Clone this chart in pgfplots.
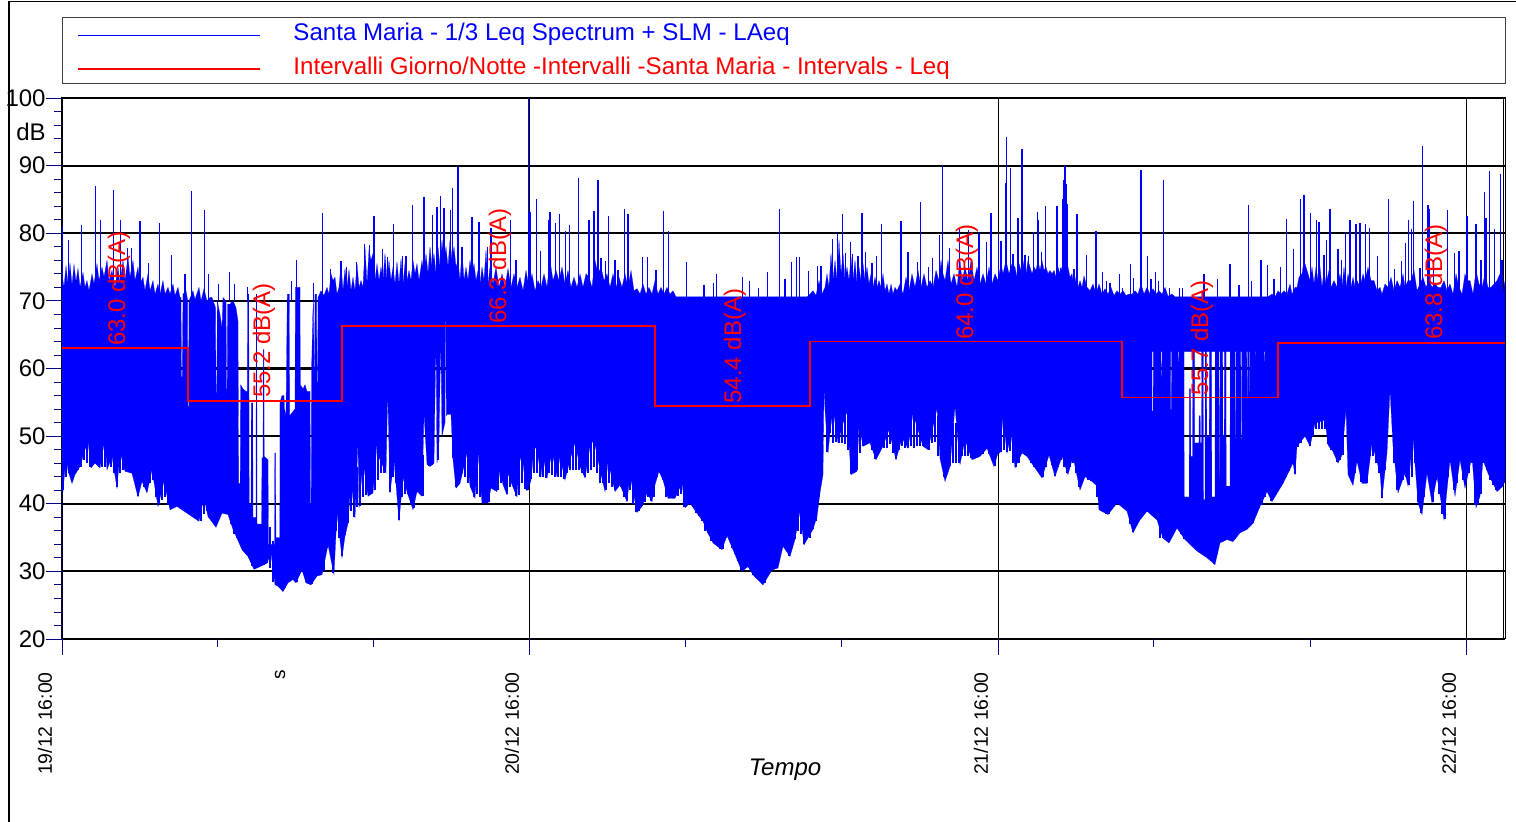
\documentclass[border=0pt]{standalone}
\usepackage{pgfplots}
\pgfplotsset{compat=1.18}
\usepackage{fontspec}
\setmainfont{Liberation Sans}
\definecolor{navy}{RGB}{0,0,128}
\definecolor{pureblue}{RGB}{0,0,255}
\definecolor{purered}{RGB}{255,0,0}
\begin{document}
\begin{tikzpicture}
\path[use as bounding box] (0,0) rectangle (758pt,411pt);
\draw[line width=.6pt,black] (4.5pt,0)--(4.5pt,410.4pt)--(758pt,410.4pt);
\begin{axis}[
  at={(31pt,91.5pt)}, anchor=south west,
  scale only axis, width=721.5pt, height=270.5pt,
  xmin=0, xmax=1443, ymin=20, ymax=100,
  /pgf/number format/assume math mode=true,
  ytick={20,30,40,50,60,70,80,90,100}, minor y tick num=4,
  xtick={0,467,936,1404},
  xticklabels={19/12 16:00,20/12 16:00,21/12 16:00,22/12 16:00},
  minor xtick={155,311,623,779,1091,1248},
  extra x ticks={1441}, extra x tick labels={},
  extra x tick style={major tick length=0pt},
  tick pos=left, tick align=outside,
  major tick length=8pt, minor tick length=4pt,
  tick style={navy,line width=.4pt},
  axis line style={black,line width=.5pt},
  xmajorgrids, ymajorgrids,
  x grid style={black,line width=.4pt},
  y grid style={black,line width=1.1pt},
  yticklabel style={font=\fontsize{12}{14}\selectfont,inner sep=0pt},
  xticklabel style={font=\fontsize{9.7}{11}\selectfont,rotate=90,anchor=east,inner sep=0pt,xshift=-8.5pt,yshift=8.5pt},
  tick label style={black},
  legend style={at={(0,1)},anchor=south west,yshift=7.2pt,draw=black!75,line width=.5pt,
    inner xsep=7.5pt,inner ysep=2.8pt,row sep=6.6pt,column sep=16.5pt,
    nodes={inner sep=0pt,anchor=base west}},
  legend cell align=left,
]
\addlegendimage{legend image code/.code={\draw[draw=pureblue,line width=.6pt] (0pt,.5ex)--(90.5pt,.5ex);}}
\addlegendentry{\makebox[598.5pt][l]{\textcolor{pureblue}{\fontsize{12.05}{14}\selectfont\rule[-3.6pt]{0pt}{12pt}Santa Maria - 1/3 Leq Spectrum + SLM - LAeq}}}
\addlegendimage{legend image code/.code={\draw[draw=purered,line width=1pt] (0pt,.5ex)--(90.5pt,.5ex);}}
\addlegendentry{\makebox[598.5pt][l]{\textcolor{purered}{\fontsize{12.05}{14}\selectfont\rule[-3.6pt]{0pt}{12pt}Intervalli Giorno/Notte -Intervalli -Santa Maria - Intervals - Leq}}}
% main body of the level trace: upper edge, then lower edge back
\addplot[draw=pureblue,fill=pureblue,line width=.1pt,forget plot] coordinates {
(0,70)(0,74)(2,72)(4,75.2)(6,72.5)(8,75.6)(10,72.3)(12,75.4)(14,72.8)(16,74.8)(18,72)(21,74.2)(23,72)(25,73)(27,71.5)(30,74)(32,72.5)(35,75.5)(37,73)(40,75)(42,73.5)(45,76)(47,73)(50,74.5)(53,72)(56,75)(58,72.5)(61,76)(63,73)(66,76.5)(68,73.5)(71,76)(73,73)(76,75)(78,72.5)(81,73.5)(83,71.5)(86,74)(88,71.5)(91,73)(93,71)(96,72.5)(98,71)(101,73)(103,71)(106,72)(108,71)(111,72.5)(113,70.8)(116,72)(118,70.5)
(119,70.5)(119.5,58.8)(120.3,58.8)(121,71)(124,71.5)(125.5,70.2)(125.9,54.4)(126.6,54.4)(127,70)(131,71.5)(133,70.2)(137,72)(139,70)(142,71.8)(145,70)(148,70.5)(150,70.5)(153.5,69)(154,56.4)(154.8,56.4)(155.3,70)(158,68)(160,66)(161,70.5)(164,70)(164.5,57)(165.2,57)(165.6,69.5)(168,69.5)(170,70)(172,69.7)(174,69)(176,67)(176.6,43)(178.2,43)
(178.6,57.6)(181,57)(184,56.6)(185.4,56.6)(185.6,71)(186.8,71)(187.2,40)(189,40)(189.3,54.9)(190.8,54.9)(191,38)(194,38)(194.2,71)(194.8,71)(195,37)(199.5,37)(200,46.8)(201,46.8)(201.3,62.8)(201.9,62.8)(202.2,47)(206,46.5)(206.5,34)(212.5,34)(212.8,47.5)(213.5,47.5)(214,35)(217.8,35)(218,55)(220,56)(222,56)(222.5,54)(224,53)(225.3,71)(227.3,71)(227.6,53)(233,54)(233.4,72)(238,72)(238.3,57.6)(241,57)(243,57.6)(245,56.6)(248,56.6)(248.5,40)(249.2,40)(249.6,60)(250.8,68)(251.5,70)(252,60)(252.6,60)(253,71)(254.5,71)(255,58)(255.6,58)(256,70.5)
(259,71.5)(262,70.8)(265,72)(267,71)(269,74)(271,73)(273,73.5)(275,71)(277,72)(279,75.5)(281,71.5)(283,74.8)(285,72)(287,74.6)(289,71.5)(291,73.5)(293,71.5)(295,75.5)(297,72)(299,73)(301,72)(303,78)(305,72.5)(307,77.5)(309,76)(311,77)(313,73)(315,75.5)(317,73)(319,75)(321,73)(323,77)(325,73)(327,76)(329,73)(331,75)(333,72.5)(335,75.8)(337,72.5)(339,76.2)(341,72.5)(343,75.5)(345,73)(347,74.5)(349,73)(351,76)(353,74)(355,75.5)(357,73)(360,76)(362,74)(364,77)(366,74)(368,78)(370,75)(372,77)(374,74)(376,78)(378,75)(380,79)(382,76)(384,78)(386,75)(388,79)(390,76)(392,78)(394,75)(396,76)(398,73)(400,77.5)(402,73)(404,75)(406,73)(408,76)(410,74)(412,75.5)(414,73)(416,74.5)(418,72.5)(420,75)(422,73)(424,77.5)(426,72.5)(428,75)(431,72.5)(434,75)(437,72)(440,74)(443,72)(446,74.8)(449,72)(452,74)(455,72)(458,73.5)(461,71.5)(464,74.5)(467,72)(470,74)(473,71.5)(476,73)(479,72)(482,74)(485,72)(488,76)(491,73)(494,74.5)(497,73)(500,75)(503,72.5)(506,74.5)(509,72)(512,73.5)(515,72)(518,74)(521,72)(524,74)(527,73.5)(530,72)(533,76)(536,74)(539,75)(542,73)(545,74)(548,72)(551,74)(554,72)(557,73.5)(560,72)(563,74)(566,72)(569,74.5)(572,71.5)(575,71.8)(578,71)(581,72.5)(584,71)(587,72)(590,71)(593,73)(596,71)(599,72)(602,71)(605,72)(608,71)(611,71.5)(614,70.6)(745,70.6)
(748,71)(751,71.5)(754,70.8)(757,73)(760,71)(763,72)(765,74)(767,72)(769,77)(771,73)(773,76)(775,73)(777,79)(779,74)(781,77)(783,73)(785,75)(787,73)(789,76.5)(791,73)(793,76)(795,72.5)(797,75)(799,73)(801,75.5)(803,73)(805,75)(807,72.5)(809,74)(811,72)(813,73.5)(815,72)(817,73)(819,72)(821,74)(823,71.5)(825,72.5)(827,71)(829,72.5)(831,71)(833,72)(835,71.5)(838,72.5)(841,71)(844,73.5)(847,71.5)(850,74)(853,72)(856,74.5)(859,72)(862,74)(865,72)(868,73)(871,72)(874,74.5)(877,73)(879,76)(881,74)(883,73)(886,76)(889,72.5)(892,74)(895,72)(898,76)(900,73)(903,75)(906,73)(909,76)(912,73)(915,75)(918,72.5)(921,74)(924,72.5)(927,75)(930,72.5)(933,74)(936,73)(939,75.5)(941,74)(944,76)(947,74)(950,75.5)(953,75)(955,73.5)(957,75.5)(960,74)(962,76)(964,74)(966,76)(968,75)(970,74)(972,75)(974,74.5)(976,76)(978,74.5)(980,76)(982,74.5)(984,75)(986,74)(988,74.5)(990,74)(992,74.5)(994,73.5)(996,75)(998,74)(1000,75)(1006,75)(1008,73.5)(1010,74)(1012,72)(1014,73.5)(1016,72)(1018,73)(1020,72)(1022,73.7)(1025,72)(1028,71.5)(1031,72.5)(1034,71)(1037,72.5)(1040,71)(1043,71.8)(1046,71)(1049,72)(1052,70.8)(1055,71.5)(1058,71)(1061,71.5)(1064,70.8)(1067,71)(1070,71)(1073,71.5)(1076,71)(1079,72.5)(1082,71)(1085,72)(1088,71)
(1089,63)(1090,63)(1090.1,53.7)(1091.2,53.7)(1091.3,63)(1098.8,63)(1099,58.8)(1099.7,58.8)(1100,63)(1108.5,63)(1108.7,53.9)(1109.4,53.9)(1109.6,63)(1116,63)(1116.2,61)(1116.9,61)(1117.1,63)(1122,63)(1122.2,41)(1127.2,41)(1127.3,57)(1128.6,57)(1128.8,47)(1130.5,47)(1130.7,63)(1132.5,63)(1132.7,49)(1137,49)(1137.1,53)(1138.2,53)(1138.4,49)(1139.5,49)(1139.7,63)(1141.3,63)(1141.5,40.6)(1143,40.6)(1143.2,63)(1144.6,63)(1144.8,50)(1147.2,50)(1147.4,63)(1149.6,63)(1149.8,41)(1153,41)(1153.2,63)(1156.8,63)(1157,44)(1157.7,44)(1157.9,63)(1160.7,63)(1160.9,50)(1162.2,50)(1162.4,63)(1164,63)(1164.2,42.6)(1168,42.6)(1168.2,63)(1173,63)(1173.2,49.7)(1173.9,49.7)(1174.1,63)(1178.7,63)(1178.9,49.7)(1179.6,49.7)(1179.8,63)(1184.7,63)(1184.9,55.5)(1185.4,55.5)(1185.6,63)(1187,63)(1187.2,53.9)(1187.7,53.9)(1187.9,63)(1193.3,63)(1193.5,62)(1194,62)(1194.2,63)(1202.3,63)(1202.5,61)(1203,61)(1203.2,63)(1206,63)(1206,70.6)
(1210,71)(1213,70.6)(1216,71.5)(1219,71)(1222,71.5)(1225,71)(1228,72.5)(1230,71)(1233,72)(1235,72)(1237,73.5)(1240,74)(1242,76)(1244,75)(1246,74)(1248,73)(1250,75)(1252,72.5)(1254,75)(1256,73)(1258,75)(1260,72)(1262,74.5)(1264,72.5)(1267,74.5)(1269,72)(1272,73)(1275,72)(1278,74)(1280,72)(1282,75)(1284,72)(1286,74)(1289,72)(1291,73.5)(1293,72)(1295,73)(1298,72)(1301,74)(1303,73)(1306,75)(1309,73)(1312,73)(1315,71.5)(1318,72)(1320,71)(1323,72.5)(1326,72)(1329,73.5)(1332,71.5)(1335,73)(1338,72)(1341,74)(1343,72)(1346,73)(1349,73)(1352,74.5)(1355,71.5)(1358,72.5)(1361,73.5)(1364,72)(1367,73)(1370,72)(1373,72.5)(1376,72)(1379,72)(1382,73)(1385,71.5)(1388,72.5)(1391,71)(1394,74)(1397,72)(1400,71)(1403,74)(1405,73)(1408,73)(1411,71)(1414,74.5)(1417,72.5)(1420,72)(1423,74)(1426,72)(1429,72)(1432,72.5)(1435,73)(1438,74)(1441,71)(1443,73)
(1443,44)(1441,42.6)(1435,41.8)(1426,44.5)(1421,46.5)(1418,41.1)(1414,39.4)(1410,47)(1403,42.3)(1398,46.5)(1393,41.1)(1388,46.5)(1382,37.6)(1375,44)(1370,40.1)(1365,44.5)(1360,38.4)(1356,40.1)(1351,49.7)(1346,42.6)(1343,44.5)(1336,41.6)(1331,48.5)(1328,56.8)(1325,47.5)(1320,40.8)(1318,44.5)(1310,49)(1305,43)(1300,43)(1295,46.3)(1291,42.7)(1286,44.3)(1284,53.9)(1280,47.2)(1276,46)(1271,47.7)(1266,48.7)(1263,52.4)(1253,51.9)(1248,48.5)(1243,50)(1235,48.5)(1233,44.3)(1231,46)(1221,43)(1210,40.3)(1205,41.8)(1198,39.6)(1191,37.1)(1185,36.2)(1178,35.7)(1171,34.4)(1165,34.7)(1158,34.2)(1153,31)(1145,32)(1135,33)(1130,33.7)(1123,34.7)(1115,36.4)(1107,34.2)(1101,34.9)(1095,37.6)(1085,38.9)(1078,37.6)(1071,35.7)(1065,38.9)(1055,40.1)(1046,38.4)(1037,39.1)(1035,42.6)(1030,43.3)(1023,44)(1018,42)(1011,47)(1006,44.3)(1000,47)(993,44)(987,47.2)(980,43.8)(973,45.3)(965,47)(960,47.5)(953,45.3)(949,50.4)(945,47.5)(941,52.9)(938,47.5)
(936,47.5)(932,45.5)(925,48.2)(918,47)(910,46.5)(903,49.5)(898,45.8)(893,54.4)(888,45.5)(883,43.3)(878,46.7)(875,54.1)(866,48)(861,48.5)(855,51.4)(851,53.4)(846,48.2)(840,49.7)(834,46.5)(827,50.9)(820,48.2)(814,46.5)(808,49)(801,48.5)(797,51.9)(795,44.8)(789,44.3)(785,53.6)(781,51.9)(776,49)(771,54.1)(768,50.4)(766,47.5)(763,53.9)(762,57.1)(761,44.3)(758,41.6)(755,38.1)(751,36.2)(745,34.7)(742,33.9)(738,38.9)(733,34.7)(728,32.2)(721,33.7)(716,30.5)(710,30.2)(701,28)(692,29.3)(686,30.7)(680,30)(671,33.2)(665,35.3)(660,33.2)(651,34.2)(645,35.9)(641,37.4)(635,38.6)(628,40.1)(623,39.4)(620,43.1)(613,40.8)(606,40.8)(601,43.5)(597,44.8)(593,42.8)(590,40.3)(585,41.6)(580,39.6)(575,38.7)(568,44.3)(565,40.3)(558,42.8)(553,41.8)(546,46.3)(543,41.8)(538,45)(532,49.5)(528,48.5)(523,43.8)(518,45.5)(513,49)(508,46.5)(503,43.5)(498,47)(495,44)(490,47.7)(485,43.8)(481,47.2)(479,44)(475,48)(472,48.5)(469,43.5)(466,42)(464,42)(460,47.5)(457,45.8)(455,41)(450,42.8)(446,44.5)(445,41.3)(441,42.8)
(438,45)(435,41.8)(429,42.3)(426,40.1)(420,40.1)(416,47.7)(413,40.8)(408,42.6)(405,47.5)(398,43)(394,42.3)(391,46.5)(389,53.2)(385,53.2)(384.3,53)(384,67)(383.5,67)(383,52)(380,50)(379,62.3)(378.5,62.3)(377,49.2)(375,46)(374.2,61.5)(373.6,61.5)(372,46)(368,45.5)(365,45.8)(362,53.4)(360,41.1)(355,41.8)(351,39.1)(346,41.3)(341,43.8)(337,37.4)(332,46.5)(328,41.6)(326,55)(325.5,55)(324,44.5)(316,47.2)(315,49)(311,41.6)(306,41.1)(301,46.3)(297,39.4)(296,49.2)(293,37.9)(289,43.5)(286,37.1)(283,35.2)(280,32)(275,38.6)(272,29.5)(266,33.9)(260,29.5)(255,29.3)(249,28)(244,28.3)(240,30.2)(234,28.3)(231,28.8)(226,28.3)(221,27)(216,27.8)(213,28)(209,32.7)(205,31.2)(198,30.7)(192,30.3)(186,32.2)(180,33.2)(175,34.9)(171,36.2)(166,38.4)(160,38.6)(154,36.5)(146,38.1)(142,41)(137,37.4)(130,38.1)(125,38.6)(115,39.6)(108,39.1)(102,43.3)(96,39.6)(90,45)(85,41.6)(80,43.3)(76,41)(70,44.5)(63,44.8)(58,47.7)(55,42.3)(50,47)(45,45)(43,49.7)(38,45.3)(33,46)(29,45.3)(26,49.2)(23,48)(18,45.5)(13,44.3)(10,43)(6,44.9)(4,47)(1,41.8)(0,42)
} \closedcycle;
% solid band above the night-time gaps
\addplot[draw=pureblue,fill=pureblue,line width=.1pt,forget plot] coordinates {
(1088,62.5)(1088,71)(1091,71.8)(1094,71)(1097,71.5)(1100,71)(1103,72)(1106,70.7)(1110,71)(1113,70.6)(1206,70.6)(1206,62.5)
} -- cycle;
% isolated peaks
\addplot[draw=none,mark=none,forget plot,
  error bars/.cd,y dir=minus,y explicit,error mark=none,
  error bar style={draw=pureblue,line width=.6pt,solid}]
 table[row sep=\\,x=x,y=y,y error minus expr={\thisrow{y}-70}] {
x y\\
0 81\\ 6.3 79\\ 19.7 81.2\\ 33.3 87\\ 38.7 82\\ 51.7 86.4\\ 58.7 82\\ 65.3 77.8\\ 69.7 77.8\\ 78 81.8\\ 86.7 75.6\\ 97.7 81.5\\ 109.7 76.8\\ 123 74\\ 129.3 86.2\\ 142.3 83.5\\ 146.7 74\\ 156.7 72.5\\ 167.3 74.3\\ 172.3 72.5\\ 185.7 72\\ 229.7 73\\ 234.7 76\\ 251.3 72.6\\ 260.7 83\\ 268.7 74.7\\ 279 75.9\\ 284.7 75\\ 294.7 75.8\\ 302.3 78.4\\ 307.3 78.3\\ 312 82.6\\ 320.3 77.7\\ 325.7 76.5\\ 331.7 81.4\\ 340.7 76.6\\ 344 76.6\\ 350.7 84.2\\ 362 85.3\\ 370.7 82.7\\ 375 83.9\\ 378.7 85.5\\ 382 83.7\\ 388.7 83.4\\ 390.7 86.7\\ 396 89.8\\ 400 78\\ 410 82.4\\ 417 81.7\\ 425.3 78\\ 429 80.8\\
448.7 81.9\\ 454 76.1\\ 466.7 100\\ 468 83.2\\ 474.7 85\\ 478.3 77.4\\ 487 81.9\\ 488 83.2\\ 493.3 81.5\\ 497.3 82.9\\ 503.7 80.4\\ 507.3 81.2\\ 516.7 88.2\\ 527 82\\ 532 83.3\\ 536 87.8\\ 539 76.4\\ 543.3 75.9\\ 546.3 82.5\\ 553 76\\ 556 74.5\\ 562.7 83.6\\ 566 82.9\\ 580.7 76.5\\ 585.3 76.5\\ 594 74.5\\ 601.3 83.3\\ 606.3 80.3\\ 624.7 75.8\\ 642 72.4\\ 651.3 72.6\\ 654.7 74\\ 680.7 73.6\\ 687.3 72.9\\ 696.3 71.9\\ 705.7 74.2\\ 717.7 83.6\\ 723 73.3\\ 729.3 75.7\\ 734.3 76.5\\ 737.3 76.5\\ 746.3 74.4\\ 755.7 75.1\\ 759 75.1\\ 770.7 79.2\\ 775.7 80\\ 780.3 82.9\\ 783.7 77.1\\ 788.7 78.7\\ 790.7 77\\ 796 76.6\\ 800 83\\ 803.3 77.2\\ 810 75.6\\ 814.7 76.7\\ 819.7 81.4\\ 839 81.8\\ 846 77.2\\ 855.3 75.7\\ 858.7 84.6\\ 866.3 75\\ 870.7 76.4\\ 877.3 79.7\\ 880.3 90\\ 887.3 77.8\\ 897.3 80.8\\ 906.3 80.5\\ 917 80\\ 924.7 78.7\\ 929 83\\
936.3 79.8\\ 939 78.9\\ 943.7 87.5\\ 944.7 94.2\\ 948.3 89.7\\ 951 77\\ 956 82.3\\ 960 92.4\\ 963 76.8\\ 966.3 76.7\\ 971.3 80.2\\ 975.7 83.2\\ 976.7 82\\ 979.7 77.2\\ 983.7 84.1\\ 991 73.9\\ 995 84.1\\ 998.3 74.9\\ 1000.7 85\\ 1001.7 87.8\\ 1003 90\\ 1004.3 87.3\\ 1005.3 84.3\\ 1012 74.7\\ 1015 82.8\\ 1024.3 76.8\\ 1034 80.4\\ 1040.7 74.3\\ 1044.3 73\\ 1048 72.7\\ 1057.7 74\\ 1060.3 71.9\\ 1068.3 75.4\\ 1071.7 73.4\\ 1079 89.3\\ 1085.7 76.6\\ 1089 73.3\\ 1093.3 74.2\\ 1096.3 72.9\\ 1101.7 87.8\\ 1107.3 71.9\\ 1117.3 71.9\\ 1120.7 71.9\\ 1142 74\\ 1155.7 73.2\\ 1168 75.4\\ 1177 72.3\\ 1186.7 84.2\\ 1189.7 72.9\\ 1199 76\\ 1205.7 75.3\\ 1212 73.2\\ 1218.3 75\\ 1224.7 82.1\\ 1231.3 77.6\\ 1238.3 85\\ 1242 85.7\\ 1248.7 83\\ 1254.7 82\\ 1257 81.7\\ 1262 76.8\\ 1264.3 79\\ 1268 83.6\\ 1276 77.6\\ 1279.7 76.1\\ 1283.7 80\\ 1288 82\\ 1294 81.3\\ 1298 81.5\\ 1303.3 81.3\\ 1307.3 80.8\\ 1315.3 76.6\\ 1326.7 85.1\\ 1332.3 74.7\\ 1339.3 75.9\\ 1343.7 78.6\\ 1346.3 82\\ 1349.3 80.7\\ 1351.3 84.8\\ 1358 74.9\\ 1360.7 92.9\\ 1366 84.2\\ 1367.3 83.6\\ 1371.3 76.1\\ 1385.3 83.5\\ 1392.3 77.1\\ 1397 77.3\\ 1405 82.6\\ 1414 81.3\\ 1419 76.1\\ 1422.3 86.1\\ 1424 82.3\\ 1427.7 89.2\\ 1432.7 80.6\\ 1438.7 88.8\\ 1440 76.1\\
};
% lower fringe of the trace
\addplot[draw=none,mark=none,forget plot,
  error bars/.cd,y dir=plus,y fixed=6,error mark=none,
  error bar style={draw=pureblue,line width=1pt,solid}]
 table[row sep=\\,x=x,y=y] {
x y\\
1 42\\ 4 44\\ 7 44.5\\ 10 43.5\\ 13 44.5\\ 16 45\\ 19 45.5\\ 22 46.5\\ 25 46\\ 28 45.5\\ 31 46\\ 34 46\\ 37 45.5\\ 40 45.5\\ 43 45.5\\ 46 46\\ 49 45.5\\ 52 44.5\\ 55 42.5\\ 58 44.5\\ 61 45\\ 64 45\\ 67 45\\ 70 44.5\\ 73 43.5\\ 76 41.2\\ 79 43\\ 82 42.5\\ 85 42\\ 88 43\\ 91 43.5\\ 94 41\\ 97 40\\ 100 40.5\\ 103 41\\ 106 39.8\\ 109 39.3\\ 112 39.5\\ 115 39.8\\ 118 39.8\\ 121 39.3\\ 124 38.8\\ 127 39.3\\ 130 38.3\\ 133 38.6\\ 136 38.2\\ 139 37.5\\ 142 38.5\\ 145 39\\ 148 38\\ 151 37.5\\ 154 36.8\\ 157 37.8\\ 160 38.6\\ 163 38.8\\ 166 38.5\\ 169 37\\ 172 35.5\\ 175 35\\ 178 34.5\\ 181 33.2\\ 184 32.5\\ 187 32\\ 190 30.8\\ 193 30.5\\ 196 31\\ 199 30.8\\ 202 31\\ 205 31.3\\ 208 30.5\\ 211 28.5\\ 214 28\\ 217 27.8\\ 220 27.3\\ 223 27.5\\ 226 28.4\\ 229 29\\ 232 29\\ 235 28.4\\ 238 29.8\\ 241 30\\ 244 28.4\\ 247 28.2\\ 250 28.1\\ 253 29\\ 256 29.5\\ 259 29.6\\ 262 30\\ 265 33.5\\ 268 33\\ 271 29.7\\ 274 36\\ 277 35\\ 280 32.2\\ 283 35.4\\ 286 37.2\\ 289 39\\ 292 38.1\\ 295 39.5\\ 298 39.6\\ 301 41\\ 304 41.3\\ 307 41.3\\ 310 41.7\\ 313 42\\ 316 43.5\\ 319 44.6\\ 322 44.6\\ 328 41.7\\ 331 44\\ 334 43\\ 337 37.6\\ 340 41\\ 343 41.5\\ 346 41.4\\ 349 40\\ 352 39.3\\ 355 41.9\\ 358 41.5\\ 361 41.2\\ 367 45.6\\ 370 45.7\\ 376 46.5\\ 391 46.7\\ 394 42.5\\ 397 43\\ 400 44.5\\ 403 44\\ 406 43\\ 409 42.7\\ 412 41\\ 415 41.5\\ 418 41\\ 421 40.2\\ 424 40.2\\ 427 40.2\\ 430 42.4\\ 433 42\\ 436 42\\ 439 43\\ 442 43\\ 445 41.5\\ 448 42.5\\ 451 43\\ 454 41.2\\ 457 41.3\\ 460 43\\ 463 42.2\\ 466 42\\ 469 43.6\\ 472 44.5\\ 475 44.5\\ 478 44\\ 481 44\\ 484 43.8\\ 487 44.5\\ 490 44.3\\ 493 44\\ 496 44\\ 499 44\\ 502 43.6\\ 505 44.5\\ 508 45\\ 511 45\\ 514 45\\ 517 45\\ 520 44.5\\ 523 43.9\\ 526 44.5\\ 529 45\\ 532 45.5\\ 535 44.5\\ 538 43\\ 541 43\\ 544 42\\ 547 43\\ 550 42.5\\ 553 42\\ 556 42.5\\ 559 42.5\\ 562 41\\ 565 40.4\\ 568 42\\ 571 40\\ 574 38.8\\ 577 39\\ 580 39.7\\ 583 40.3\\ 586 41\\ 589 40.4\\ 592 41\\ 595 44\\ 598 44.5\\ 601 43.5\\ 604 41\\ 607 41\\ 610 41\\ 613 41\\ 616 41.2\\ 619 41.5\\ 622 39.5\\ 625 40\\ 628 40.2\\ 631 39.5\\ 634 38.7\\ 637 38.2\\ 640 37.5\\ 643 36\\ 646 35.7\\ 649 34.5\\ 652 34.3\\ 655 34.2\\ 658 33.3\\ 661 33.3\\ 664 35\\ 667 35\\ 670 33.5\\ 673 32.5\\ 676 31.5\\ 679 30.2\\ 682 30.3\\ 685 30.8\\ 688 30.3\\ 691 29.4\\ 694 30\\ 697 29.5\\ 700 28.3\\ 703 28.3\\ 706 29.5\\ 709 30.3\\ 712 30.5\\ 715 30.7\\ 718 32.5\\ 721 33.8\\ 724 33.8\\ 727 32.3\\ 730 33.5\\ 733 34.8\\ 736 36\\ 739 35.5\\ 742 34\\ 745 34.8\\ 748 35\\ 751 36.3\\ 754 37.5\\ 757 41\\ 760 44.4\\ 765 47.6\\ 768 50.5\\ 771 49\\ 774 49.2\\ 777 49\\ 780 49\\ 783 48.8\\ 786 48\\ 789 44.4\\ 792 44.6\\ 795 45\\ 798 47.5\\ 801 48.6\\ 804 48.8\\ 807 49\\ 810 48\\ 813 46.6\\ 816 47.5\\ 819 48.3\\ 822 48.3\\ 825 48.3\\ 828 48.8\\ 831 47.5\\ 834 46.6\\ 837 48\\ 840 48.5\\ 843 48.3\\ 846 48.3\\ 849 48.5\\ 852 48.3\\ 855 48.5\\ 858 48.5\\ 861 48.6\\ 864 48.2\\ 867 48\\ 870 49\\ 873 49.2\\ 876 47\\ 879 46.8\\ 882 44\\ 885 44.5\\ 888 45.6\\ 891 46\\ 894 46\\ 897 46\\ 900 47\\ 903 47\\ 906 47\\ 909 46.7\\ 912 46.6\\ 915 46.8\\ 918 47.1\\ 921 47.4\\ 924 48.3\\ 927 47.4\\ 930 46.5\\ 933 45.6\\ 936 47.6\\ 939 47.6\\ 942 48\\ 945 47.6\\ 948 47.8\\ 951 46\\ 954 45.4\\ 957 46\\ 960 47.6\\ 963 47.2\\ 966 47\\ 969 46\\ 972 45.4\\ 975 45.5\\ 978 44.8\\ 981 43.9\\ 984 45.5\\ 987 47.2\\ 990 45.8\\ 993 44.1\\ 996 45.5\\ 999 46.5\\ 1002 45.5\\ 1005 44.5\\ 1008 45.5\\ 1011 46\\ 1014 44.5\\ 1017 42.5\\ 1020 43\\ 1023 44\\ 1026 43.5\\ 1029 43.4\\ 1032 43\\ 1035 41\\ 1038 39.3\\ 1041 39\\ 1044 38.5\\ 1047 38.5\\ 1050 39.5\\ 1053 40.2\\ 1056 40\\ 1059 40\\ 1062 39.5\\ 1065 39\\ 1068 37\\ 1071 35.8\\ 1074 36.8\\ 1077 37.6\\ 1080 38.5\\ 1083 39\\ 1086 38.8\\ 1089 38.6\\ 1092 38\\ 1095 37.7\\ 1098 35\\ 1101 35\\ 1104 35\\ 1107 34.3\\ 1110 35.5\\ 1113 36.2\\ 1116 36.5\\ 1119 35.5\\ 1122 34.8\\ 1125 34.5\\ 1128 34\\ 1131 33.8\\ 1134 33.1\\ 1137 33\\ 1140 32.8\\ 1143 32.2\\ 1146 32\\ 1149 31.5\\ 1152 31.1\\ 1155 32.5\\ 1158 34.3\\ 1161 34.5\\ 1164 34.8\\ 1167 34.8\\ 1170 34.5\\ 1173 34.8\\ 1176 35.6\\ 1179 35.8\\ 1182 36\\ 1185 36.3\\ 1188 36.7\\ 1191 37.2\\ 1194 38.3\\ 1197 39.4\\ 1200 39.8\\ 1203 41\\ 1206 41.9\\ 1209 40.4\\ 1212 41.5\\ 1215 42\\ 1218 42.7\\ 1221 43.1\\ 1224 44\\ 1227 44.8\\ 1230 46\\ 1233 44.4\\ 1236 48.4\\ 1239 49\\ 1242 49.8\\ 1245 49.8\\ 1248 48.6\\ 1251 50\\ 1254 51\\ 1257 51\\ 1260 51\\ 1263 51\\ 1266 48.8\\ 1269 48\\ 1272 47.8\\ 1275 46.2\\ 1278 46.5\\ 1281 47.2\\ 1287 44.4\\ 1290 43.2\\ 1293 44.5\\ 1296 46\\ 1299 43.2\\ 1302 43\\ 1305 43.1\\ 1308 47\\ 1311 47\\ 1314 46\\ 1317 44.6\\ 1320 40.9\\ 1323 45\\ 1332 46\\ 1335 42\\ 1338 42.8\\ 1341 43.5\\ 1344 44\\ 1347 42.7\\ 1350 44\\ 1353 46\\ 1356 40.2\\ 1359 38.6\\ 1362 41\\ 1365 44.6\\ 1368 42.5\\ 1371 40.2\\ 1374 43.5\\ 1377 41.5\\ 1380 38.5\\ 1383 37.8\\ 1386 44\\ 1389 46\\ 1392 42\\ 1395 43\\ 1398 46.5\\ 1401 43.5\\ 1404 43\\ 1407 44.5\\ 1410 46\\ 1413 39.8\\ 1416 40\\ 1419 41.5\\ 1422 46\\ 1425 45\\ 1428 43.5\\ 1431 42.8\\ 1434 42\\ 1437 42.5\\ 1440 42.8\\ 1443 43\\
};
\addplot[draw=purered,line width=.9pt,sharp plot,forget plot] coordinates {
(0,63)(126,63)(126,55.2)(280,55.2)(280,66.3)(593,66.3)(593,54.4)(748,54.4)(748,64)(1060,64)(1060,55.7)(1216,55.7)(1216,63.8)(1443,63.8)
};
\begin{scope}[every node/.style={rotate=90,anchor=west,inner sep=0pt,text=purered,font=\fontsize{12}{14}\selectfont}]
\node at (axis cs:57,63.3) {63.0 dB(A)};
\node at (axis cs:202,55.6) {55.2 dB(A)};
\node at (axis cs:438,66.6) {66.3 dB(A)};
\node at (axis cs:673,54.75) {54.4 dB(A)};
\node at (axis cs:905,64.2) {64.0 dB(A)};
\node at (axis cs:1140,56) {55.7 dB(A)};
\node at (axis cs:1374,64.2) {63.8 dB(A)};
\end{scope}
\end{axis}
\node[font=\fontsize{12}{14}\selectfont,inner sep=0pt] at (15.5pt,345pt) {dB};
\node[font=\fontsize{9.5}{11}\selectfont,rotate=90,inner sep=0pt] at (140pt,73.5pt) {s};
\node[font=\itshape\fontsize{12}{14}\selectfont,inner sep=0pt] at (392.5pt,26pt) {Tempo};
\end{tikzpicture}
\end{document}
